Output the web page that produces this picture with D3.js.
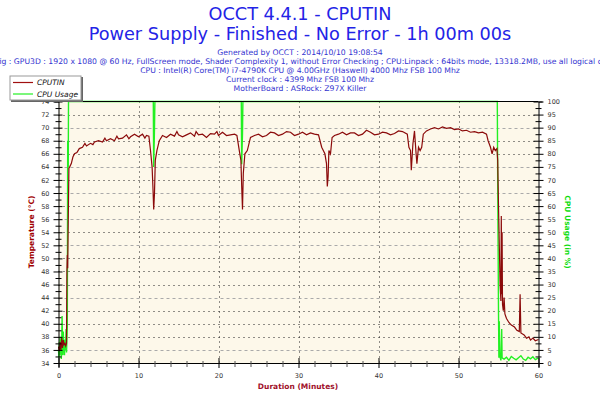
<!DOCTYPE html>
<html><head><meta charset="utf-8">
<script src="https://cdn.jsdelivr.net/npm/d3@7"></script>
<style>body{margin:0;background:#fff}svg{display:block}</style>
</head><body>
<svg id="c" width="600" height="400"></svg>
<script>
// ---- data ----
const titleLines = ["OCCT 4.4.1 - CPUTIN", "Power Supply - Finished - No Error - 1h 00m 00s"];
const infoLines = [
  "Generated by OCCT : 2014/10/10 19:08:54",
  "Config : GPU3D : 1920 x 1080 @ 60 Hz, FullScreen mode, Shader Complexity 1, without Error Checking ; CPU:Linpack : 64bits mode, 13318.2MB, use all logical cores",
  "CPU : Intel(R) Core(TM) i7-4790K CPU @ 4.00GHz (Haswell) 4000 Mhz FSB 100 Mhz",
  "Current clock : 4399 Mhz FSB 100 Mhz",
  "MotherBoard : ASRock: Z97X Killer"
];
const seriesNames = ["CPUTIN", "CPU Usage"];
const tempTicks = [34,36,38,40,42,44,46,48,50,52,54,56,58,60,62,64,66,68,70,72,74];
const usageTicks = [0,5,10,15,20,25,30,35,40,45,50,55,60,65,70,75,80,85,90,95,100];
const timeTicks = [0,10,20,30,40,50,60];

const tempTime = [0,0.1,0.2,0.3,0.4,0.5,0.6,0.7,0.8,0.9,1.0,1.05,1.1,1.15,1.2,1.3,1.4,1.6,1.8,2.0,2.3,2.6,3.0,3.3,3.5,4.0,4.3,4.5,5.0,5.5,5.8,6.0,6.5,7.0,7.3,7.5,8.0,8.5,8.8,9.0,9.5,10.0,10.5,10.8,11.0,11.3,11.5,11.7,11.8,11.9,12.0,12.1,12.3,12.6,13.0,13.5,14.0,14.5,14.8,15.0,15.5,16.0,16.5,17.0,17.2,17.5,18.0,18.5,19.0,19.5,19.8,20.0,20.5,21.0,21.5,22.0,22.3,22.6,22.8,22.9,23.0,23.1,23.3,23.6,24.0,24.5,25.0,25.5,26.0,26.5,27.0,27.5,28.0,28.5,29.0,29.5,30.0,30.5,31.0,31.5,32.0,32.5,32.9,33.1,33.3,33.5,33.6,33.7,33.8,34.0,34.2,34.5,35.0,35.5,36.0,36.5,37.0,37.5,38.0,38.5,39.0,39.5,40.0,40.5,41.0,41.5,42.0,42.5,43.0,43.6,43.8,44.0,44.1,44.3,44.5,44.7,44.8,45.0,45.2,45.4,45.6,46.0,46.5,47.0,47.5,48.0,48.5,49.0,49.5,50.0,50.5,51.0,51.5,52.0,52.5,53.0,53.5,53.7,54.0,54.2,54.4,54.6,54.8,54.9,55.0,55.1,55.2,55.3,55.35,55.4,55.45,55.5,55.6,55.7,55.8,56.0,56.3,56.6,57.0,57.3,57.6,57.7,57.8,58.2,58.5,58.8,59.0,59.3,59.6,60.0];
const tempVal = [36.5,35.8,37.2,36.0,37.8,36.3,37.5,36.8,37.0,36.6,37.0,48.0,50.5,48.5,54.0,63.8,64.0,64.5,65.5,66.0,66.2,66.8,67.0,67.6,67.2,67.6,67.4,67.8,68.0,67.8,68.4,68.0,68.3,68.0,68.7,68.3,68.4,68.9,68.3,68.6,69.0,68.6,69.0,68.4,68.8,68.7,66.5,64.0,61.0,57.5,60.0,65.0,66.5,68.0,68.8,68.5,69.0,68.7,69.4,68.9,68.6,68.9,69.2,68.7,69.4,68.9,69.0,68.5,69.1,69.0,69.4,68.8,69.3,68.8,68.9,69.0,68.8,66.5,65.0,61.0,57.5,63.0,66.0,66.5,68.5,68.8,69.0,68.6,68.8,69.3,69.2,68.8,69.0,69.4,69.3,68.8,69.0,69.3,68.9,69.2,69.0,68.9,67.0,66.5,66.0,64.5,61.0,62.5,66.5,66.0,68.5,68.8,69.0,69.3,68.9,69.2,69.2,68.8,69.0,69.6,69.3,68.9,69.0,69.3,69.2,68.9,69.1,69.5,69.4,69.0,67.0,66.5,63.5,67.5,69.5,66.0,64.5,67.0,66.5,67.0,69.0,69.5,69.8,70.0,69.8,70.1,69.9,70.0,69.7,69.8,69.5,69.6,69.3,69.4,69.2,69.3,69.0,68.0,67.0,66.0,67.0,66.5,66.8,65.0,58.0,52.0,46.0,43.5,56.5,44.5,54.0,43.0,42.0,44.0,41.5,40.8,40.2,39.8,39.5,39.0,38.8,44.5,38.6,38.3,37.8,38.0,37.5,37.8,37.4,37.6,37.6];

const usageTime = [0,0.05,0.1,0.15,0.2,0.25,0.3,0.35,0.4,0.45,0.5,0.55,0.6,0.65,0.7,0.75,0.8,0.85,0.9,0.95,1.0,1.1,1.15,1.18,1.2,1.22,1.25,11.85,11.9,12.0,12.05,22.85,22.9,23.0,23.05,54.85,54.9,55.0,55.05,55.1,55.15,55.3,55.4,55.45,55.7,56.0,56.3,56.6,56.9,57.2,57.5,57.8,58.1,58.4,58.7,59.0,59.3,59.6,60.0];
const usageVal = [5,2,8,3,10,4,9,1.5,7,18,6,3,12,4,8,3,9,5,7,13,4,14,85,74,84,75,100,100,75,90,100,100,76,88,100,100,70,20,2,16,3,1,13,2,1.5,2.2,1.0,2.5,1.8,1.2,2.0,2.8,1.5,1.0,2.2,1.6,2.4,1.3,2.0];

// ---- layout ----
const svg = d3.select("#c");
const L = 58.5, R = 538.5, T = 101.5, B = 363;
const x = d3.scaleLinear().domain([0,60]).range([L,R]);
const yT = d3.scaleLinear().domain([34,74]).range([B,T]);
const yC = d3.scaleLinear().domain([0,100]).range([B,T]);
const FONT = "DejaVu Sans, Verdana, sans-serif";

const blue = "#2323e6";
svg.selectAll("text.title").data(titleLines).join("text")
  .attr("x",300).attr("y",(d,i)=>19.5+i*20).attr("text-anchor","middle")
  .attr("font-family",FONT).attr("font-size",17.7)
  .attr("fill",blue).text(d=>d);
svg.selectAll("text.info").data(infoLines).join("text")
  .attr("x",300).attr("y",(d,i)=>54.5+i*9).attr("text-anchor","middle")
  .attr("font-family",FONT).attr("font-size",7.7)
  .attr("fill","#3333d0").text(d=>d);

// plot background
svg.append("rect").attr("x",L).attr("y",T).attr("width",R-L).attr("height",B-T).attr("fill","#fdf8ea");

// grid
const g = svg.append("g");
g.selectAll("line.hg").data(tempTicks.filter(t=>t>34&&t<74)).join("line")
  .attr("x1",L).attr("x2",R).attr("y1",d=>Math.round(yT(d))+0.5).attr("y2",d=>Math.round(yT(d))+0.5)
  .attr("stroke","#222").attr("stroke-width",1).attr("stroke-dasharray","1,4");
const grayGrid = [5,25,45,55,65,75,90];
g.selectAll("line.hg2").data(grayGrid).join("line")
  .attr("x1",L).attr("x2",R).attr("y1",d=>Math.round(yC(d))+0.5).attr("y2",d=>Math.round(yC(d))+0.5)
  .attr("stroke","#fdf8ea").attr("stroke-width",1.5);
g.selectAll("line.hg3").data(grayGrid).join("line")
  .attr("x1",L).attr("x2",R).attr("y1",d=>Math.round(yC(d))+0.5).attr("y2",d=>Math.round(yC(d))+0.5)
  .attr("stroke","#aaa").attr("stroke-width",1).attr("stroke-dasharray","3,3");
g.selectAll("line.vg").data(timeTicks.filter(t=>t>0&&t<60)).join("line")
  .attr("y1",T).attr("y2",B).attr("x1",d=>Math.round(x(d))+0.5).attr("x2",d=>Math.round(x(d))+0.5)
  .attr("stroke","#222").attr("stroke-width",1).attr("stroke-dasharray","1,4");

// series
const tempData = tempTime.map((t,i)=>[t,tempVal[i]]);
const usageData = usageTime.map((t,i)=>[t,usageVal[i]]);
svg.append("path").datum(usageData)
  .attr("d", d3.line().x(d=>x(d[0])).y(d=>yC(d[1])))
  .attr("fill","none").attr("stroke","#22f022").attr("stroke-width",1.4);
svg.append("path").datum(tempData)
  .attr("d", d3.line().x(d=>x(d[0])).y(d=>yT(d[1])))
  .attr("fill","none").attr("stroke","#8b0a0a").attr("stroke-width",1.2);

// axes
const tickFont = (sel)=>sel.selectAll("text").attr("font-family",FONT).attr("font-size",6.5).attr("fill","#333");
const axL = svg.append("g").attr("transform",`translate(${L},0)`)
  .call(d3.axisLeft(yT).tickValues(tempTicks).tickSize(4).tickPadding(5).tickFormat(d3.format("d")));
axL.selectAll(".tick line").attr("x1",-5).attr("x2",4);
tickFont(axL);
svg.append("g").attr("transform",`translate(${L},0)`)
  .call(d3.axisLeft(yT).tickValues(d3.range(35,74,2)).tickSize(3).tickFormat(""))
  .call(s=>s.selectAll(".tick line").attr("x1",-3).attr("x2",3))
  .call(s=>s.select(".domain").remove());

const axR = svg.append("g").attr("transform",`translate(${R},0)`)
  .call(d3.axisRight(yC).tickValues(usageTicks).tickSize(4).tickPadding(5).tickFormat(d3.format("d")));
axR.selectAll(".tick line").attr("x1",-5).attr("x2",5);
tickFont(axR);
svg.append("g").attr("transform",`translate(${R},0)`)
  .call(d3.axisRight(yC).tickValues(d3.range(2.5,100,5)).tickSize(3).tickFormat(""))
  .call(s=>s.selectAll(".tick line").attr("x1",-3).attr("x2",3))
  .call(s=>s.select(".domain").remove());

const axB = svg.append("g").attr("transform",`translate(0,${B})`)
  .call(d3.axisBottom(x).tickValues(timeTicks).tickSize(4).tickPadding(6).tickFormat(d3.format("d")));
axB.selectAll(".tick line").attr("y1",-5).attr("y2",5);
tickFont(axB);
svg.append("g").attr("transform",`translate(0,${B})`)
  .call(d3.axisBottom(x).tickValues(d3.range(2,60,2).filter(v=>v%10)).tickSize(4).tickFormat(""))
  .call(s=>s.selectAll(".tick line").attr("y1",-2).attr("y2",4).attr("stroke","#555"))
  .call(s=>s.select(".domain").remove());
svg.selectAll(".domain").attr("stroke","#000");
svg.append("line").attr("x1",L).attr("x2",R).attr("y1",T).attr("y2",T).attr("stroke","#000");

// axis titles
svg.append("text").attr("transform","translate(34,232) rotate(-90)").attr("text-anchor","middle")
  .attr("font-family",FONT).attr("font-size",7.5).attr("font-weight","bold")
  .attr("fill","#a00000").text("Temperature (°C)");
svg.append("text").attr("transform","translate(565,232) rotate(90)").attr("text-anchor","middle")
  .attr("font-family",FONT).attr("font-size",7.5).attr("font-weight","bold")
  .attr("fill","#11dd11").text("CPU Usage (in %)");
svg.append("text").attr("x",298).attr("y",389).attr("text-anchor","middle")
  .attr("font-family",FONT).attr("font-size",7.5).attr("font-weight","bold")
  .attr("fill","#a0102a").text("Duration (Minutes)");

// legend
const lg = svg.append("g");
lg.append("rect").attr("x",11).attr("y",77).attr("width",72).attr("height",25).attr("fill","#666");
lg.append("rect").attr("x",10).attr("y",76).attr("width",71).attr("height",24).attr("fill","#fff").attr("stroke","#999");
const legColors = ["#a01010","#22f022"];
seriesNames.forEach((n,i)=>{
  lg.append("line").attr("x1",13).attr("x2",33).attr("y1",82.5+i*11.5).attr("y2",82.5+i*11.5)
    .attr("stroke",legColors[i]).attr("stroke-width",1.2);
  lg.append("text").attr("x",37).attr("y",85+i*11.5)
    .attr("font-family",FONT).attr("font-size",7.5).attr("font-style","italic")
    .attr("fill","#111").text(n);
});
</script>
</body></html>
